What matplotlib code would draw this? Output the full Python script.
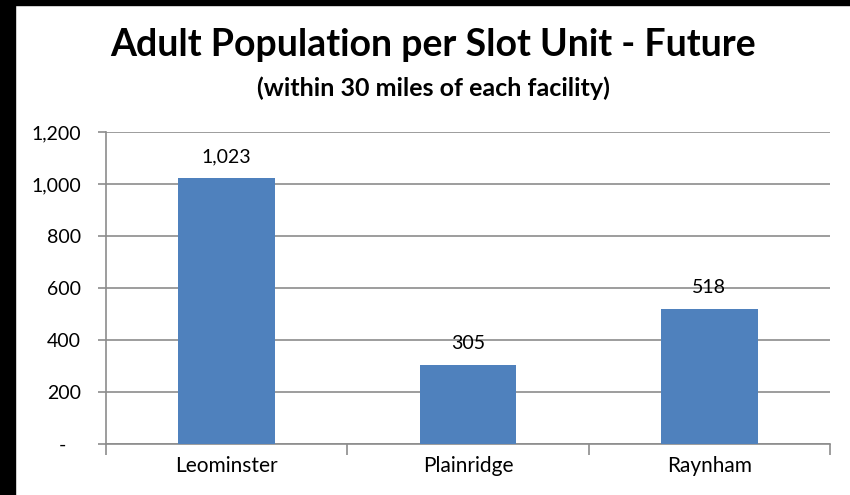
import matplotlib
matplotlib.use("Agg")
import matplotlib.pyplot as plt
from matplotlib.patches import Rectangle

# values
facilities = ["Leominster", "Plainridge", "Raynham"]
adults_per_slot = [1023, 305, 518]
y_ticks = [0, 200, 400, 600, 800, 1000, 1200]
y_labels = ["-   ", "200", "400", "600", "800", "1,000", "1,200"]

bar_color = "#4F81BD"
grid_color = "#8C8C8C"

plt.rcParams["font.family"] = ["Lato", "DejaVu Sans"]

fig = plt.figure(figsize=(8.5, 4.95), dpi=100)
fig.patch.set_facecolor("white")

# black frame strips on the left and top of the original screenshot
fig.patches.append(Rectangle((0, 0), 15 / 850, 1, transform=fig.transFigure,
                             color="black", zorder=10))
fig.patches.append(Rectangle((0, 1 - 5 / 495), 1, 5 / 495, transform=fig.transFigure,
                             color="black", zorder=10))

ax = fig.add_axes([106 / 850, 1 - 444 / 495, 724 / 850, 312 / 495])

x = range(len(facilities))
ax.bar(x, adults_per_slot, width=0.4, color=bar_color, zorder=3)
ax.set_xlim(-0.5, len(facilities) - 0.5)
ax.set_ylim(0, 1200)

ax.set_yticks(y_ticks)
ax.set_yticklabels(y_labels, fontsize=14)
ax.yaxis.grid(True, color=grid_color, linewidth=1.2, zorder=0)

# category labels centred, tick marks on the category boundaries
ax.set_xticks([0.5 - 1, 0.5, 1.5, 2.5])
ax.set_xticklabels([])
ax.set_xticks(list(x), minor=True)
ax.set_xticklabels(facilities, minor=True, fontsize=15)
ax.tick_params(axis="x", which="minor", length=0, pad=9)
ax.tick_params(axis="x", which="major", length=8, color=grid_color, width=1.2)
ax.tick_params(axis="y", length=6, color=grid_color, width=1.2, pad=12)

for side in ["top", "right"]:
    ax.spines[side].set_visible(False)
ax.spines["left"].set_color(grid_color)
ax.spines["bottom"].set_color(grid_color)
ax.spines["left"].set_linewidth(1.2)
ax.spines["bottom"].set_linewidth(1.2)

for i, v in enumerate(adults_per_slot):
    ax.text(i, v + 50, f"{v:,}", ha="center", va="bottom", fontsize=14, zorder=4)

fig.text(433 / 850, 1 - 45 / 495, "Adult Population per Slot Unit - Future",
         ha="center", va="center", fontsize=27, fontweight="bold")
fig.text(433 / 850, 1 - 88 / 495, "(within 30 miles of each facility)",
         ha="center", va="center", fontsize=18, fontweight="bold")

fig.savefig("out.png", dpi=100)
